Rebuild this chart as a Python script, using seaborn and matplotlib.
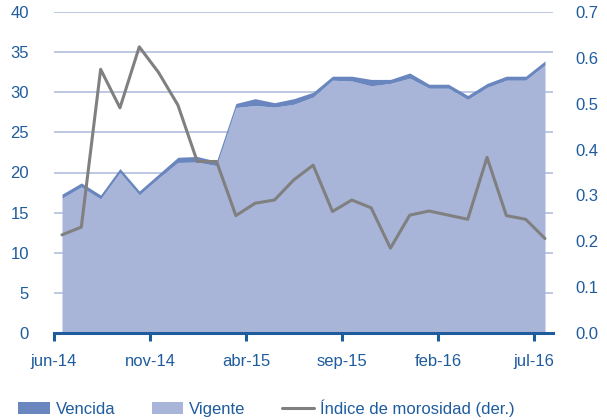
import numpy as np
import pandas as pd
import matplotlib
matplotlib.use("Agg")
import matplotlib.pyplot as plt
import seaborn as sns
from matplotlib.patches import Patch
from matplotlib.lines import Line2D

months = ["jun-14", "jul-14", "ago-14", "sep-14", "oct-14", "nov-14", "dic-14",
          "ene-15", "feb-15", "mar-15", "abr-15", "may-15", "jun-15", "jul-15",
          "ago-15", "sep-15", "oct-15", "nov-15", "dic-15", "ene-16", "feb-16",
          "mar-16", "abr-16", "may-16", "jun-16", "jul-16"]
total = [17.3, 18.7, 17.2, 20.5, 17.7, 19.8, 21.9, 22.0, 21.4, 28.6, 29.2, 28.7,
         29.2, 30.0, 32.0, 32.0, 31.6, 31.6, 32.4, 31.0, 31.0, 29.6, 31.1, 32.0,
         32.0, 33.9]
vencida = [0.5, 0.5, 0.5, 0.5, 0.5, 0.5, 0.65, 0.7, 0.55, 0.5, 0.85, 0.55,
           0.7, 0.6, 0.5, 0.6, 0.8, 0.5, 0.65, 0.5, 0.5, 0.5, 0.5, 0.5,
           0.5, 0.5]
vigente = [t - v for t, v in zip(total, vencida)]
morosidad = [0.214, 0.231, 0.575, 0.491, 0.624, 0.568, 0.497, 0.374, 0.374,
             0.256, 0.283, 0.290, 0.334, 0.366, 0.265, 0.290, 0.273, 0.185,
             0.257, 0.266, 0.257, 0.248, 0.383, 0.256, 0.248, 0.206]
tick_labels = ["jun-14", "nov-14", "abr-15", "sep-15", "feb-16", "jul-16"]

sns.set_theme(style="white")
plt.rcParams['font.family'] = ['Liberation Sans', 'DejaVu Sans']

c_venc = "#6a86be"
c_vig = "#a8b5d8"
c_line = "#808080"
c_txt = "#1f5c9e"
c_grid = "#b3bfdf"
fs = 12

fig = plt.figure(figsize=(6.07, 4.20), dpi=100)
ax = fig.add_axes([54/607, 1-333/420, (553-54)/607, (333-12)/420])
x = np.arange(len(months))
ax.stackplot(x, vigente, vencida, colors=[c_vig, c_venc], linewidth=0, zorder=2)
ax.set_xlim(-0.414, len(months) - 0.586)
ax.set_ylim(0, 40)
ax.set_yticks(np.arange(0, 41, 5))
ax.yaxis.grid(True, color=c_grid, linewidth=1.2, zorder=0)
ax.set_axisbelow(True)
ax.set_xticks([-0.414 + 4.969 * k for k in range(6)])
ax.set_xticklabels(tick_labels)
for s in ["top", "left", "right"]:
    ax.spines[s].set_visible(False)
ax.spines["bottom"].set_color(c_txt)
ax.spines["bottom"].set_linewidth(2.2)
ax.tick_params(axis="x", bottom=True, colors=c_txt, length=6, width=2.2,
               direction="out", labelsize=fs, pad=9, labelcolor=c_txt)
ax.tick_params(axis="y", left=False, length=0, labelsize=fs, labelcolor=c_txt, pad=18)
ax.set_xlabel("")
ax.set_ylabel("")

ax2 = ax.twinx()
df = pd.DataFrame({"x": x, "m": morosidad})
sns.lineplot(data=df, x="x", y="m", ax=ax2, color=c_line, linewidth=2.2, zorder=3)
ax2.set_ylim(0, 0.7)
ax2.set_yticks(np.arange(0, 0.71, 0.1))
ax2.set_yticklabels([f"{v:.1f}" for v in np.arange(0, 0.71, 0.1)])
ax2.set_xlim(ax.get_xlim())
for s in ["top", "left", "right", "bottom"]:
    ax2.spines[s].set_visible(False)
ax2.tick_params(axis="y", right=False, length=0, labelsize=fs, labelcolor=c_txt, pad=16)
ax2.set_xlabel("")
ax2.set_ylabel("")
ax2.grid(False)

handles = [Patch(facecolor=c_venc, edgecolor="none"),
           Patch(facecolor=c_vig, edgecolor="none"),
           Line2D([0], [0], color=c_line, linewidth=2.2)]
labels = ["Vencida", "Vigente", "Índice de morosidad (der.)"]
fig.legend(handles, labels, loc="center left", bbox_to_anchor=(18/607, 1 - 408/420),
           ncol=3, frameon=False, fontsize=fs, labelcolor=c_txt,
           handlelength=1.9, handleheight=0.75, columnspacing=2.2, handletextpad=0.35,
           borderaxespad=0, borderpad=0)
fig.savefig("out.png", dpi=100)
